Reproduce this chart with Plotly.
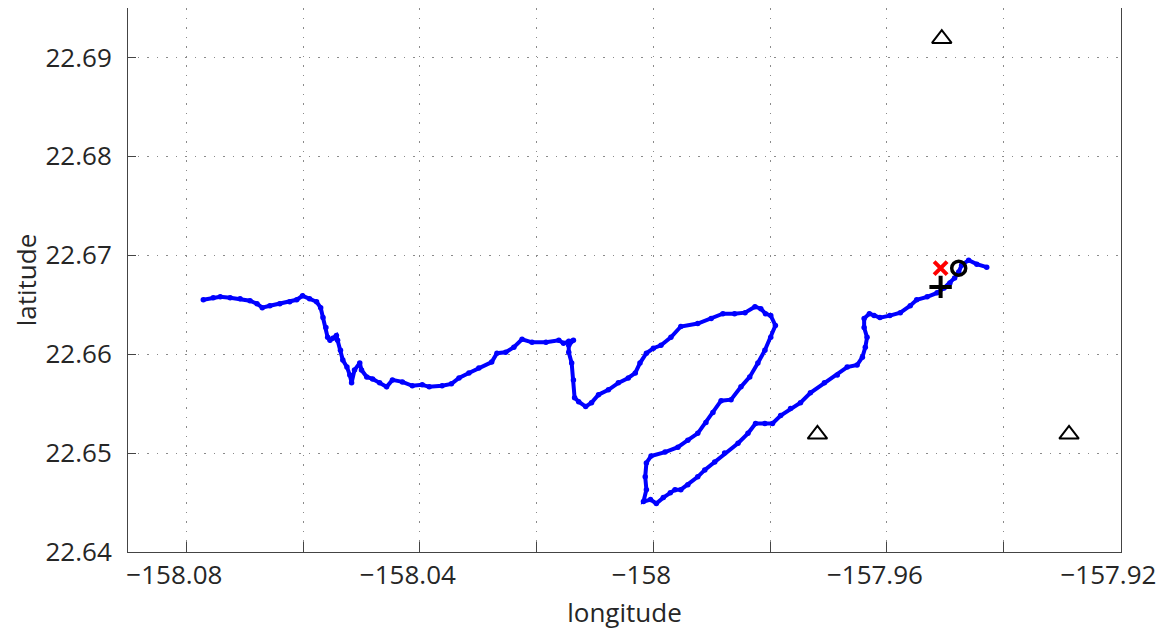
import plotly.graph_objects as go

# track (lon, lat)
track_lon = [-158.0771, -158.0754, -158.0742, -158.0725, -158.0708, -158.0691, -158.0679, -158.0670,
             -158.0657, -158.0640, -158.0623, -158.0611, -158.0601, -158.0589, -158.0577, -158.0570,
             -158.0566, -158.0561, -158.0558, -158.0554, -158.0549, -158.0543, -158.0541, -158.0536,
             -158.0532, -158.0525, -158.0520, -158.0517, -158.0512, -158.0503, -158.0500, -158.0491,
             -158.0481, -158.0469, -158.0457, -158.0447, -158.0430, -158.0413, -158.0396, -158.0384,
             -158.0362, -158.0346, -158.0333, -158.0316, -158.0299, -158.0277, -158.0268, -158.0253,
             -158.0239, -158.0225, -158.0208, -158.0184, -158.0162, -158.0154, -158.0145, -158.0137,
             -158.0145, -158.0145, -158.0140, -158.0137, -158.0135, -158.0128, -158.0116, -158.0106,
             -158.0094, -158.0077, -158.0060, -158.0043, -158.0031, -158.0023, -158.0012, -158.0000,
             -157.9987, -157.9970, -157.9953, -157.9924, -157.9901, -157.9881, -157.9861, -157.9843,
             -157.9826, -157.9816, -157.9808, -157.9799, -157.9791, -157.9799, -157.9809, -157.9821,
             -157.9835, -157.9850, -157.9867, -157.9884, -157.9898, -157.9910, -157.9924, -157.9941,
             -157.9958, -157.9980, -158.0004, -158.0012, -158.0014, -158.0012, -158.0017, -158.0005,
             -157.9995, -157.9983, -157.9971, -157.9963, -157.9953, -157.9941, -157.9924, -157.9912,
             -157.9895, -157.9878, -157.9855, -157.9838, -157.9825, -157.9809, -157.9796, -157.9782,
             -157.9765, -157.9748, -157.9731, -157.9707, -157.9685, -157.9668, -157.9651, -157.9642,
             -157.9637, -157.9634, -157.9639, -157.9639, -157.9630, -157.9622, -157.9612, -157.9595,
             -157.9577, -157.9560, -157.9549, -157.9531, -157.9514, -157.9502, -157.9492, -157.9484,
             -157.9477, -157.9472, -157.9460, -157.9446, -157.9429]
track_lat = [22.6655, 22.6657, 22.6658, 22.6657, 22.6656, 22.6654, 22.6651, 22.6647,
             22.6649, 22.6651, 22.6653, 22.6655, 22.6659, 22.6656, 22.6653, 22.6647,
             22.6637, 22.6627, 22.6617, 22.6614, 22.6616, 22.6619, 22.6614, 22.6604,
             22.6594, 22.6587, 22.6579, 22.6571, 22.6584, 22.6591, 22.6584, 22.6577,
             22.6575, 22.6571, 22.6567, 22.6574, 22.6572, 22.6568, 22.6569, 22.6567,
             22.6568, 22.6570, 22.6576, 22.6581, 22.6586, 22.6592, 22.6601, 22.6602,
             22.6607, 22.6615, 22.6612, 22.6612, 22.6614, 22.6611, 22.6613, 22.6614,
             22.6609, 22.6602, 22.6591, 22.6574, 22.6556, 22.6552, 22.6547, 22.6551,
             22.6559, 22.6564, 22.6571, 22.6576, 22.6581, 22.6591, 22.6601, 22.6606,
             22.6609, 22.6617, 22.6628, 22.6631, 22.6636, 22.6641, 22.6641, 22.6642,
             22.6648, 22.6646, 22.6641, 22.6639, 22.6629, 22.6617, 22.6604, 22.6591,
             22.6577, 22.6567, 22.6554, 22.6553, 22.6541, 22.6531, 22.6520, 22.6513,
             22.6506, 22.6501, 22.6497, 22.6490, 22.6476, 22.6463, 22.6451, 22.6453,
             22.6449, 22.6455, 22.6460, 22.6463, 22.6463, 22.6468, 22.6476, 22.6483,
             22.6491, 22.6500, 22.6510, 22.6520, 22.6530, 22.6530, 22.6530, 22.6538,
             22.6545, 22.6551, 22.6561, 22.6571, 22.6579, 22.6587, 22.6589, 22.6597,
             22.6607, 22.6617, 22.6627, 22.6636, 22.6641, 22.6639, 22.6637, 22.6639,
             22.6642, 22.6649, 22.6655, 22.6658, 22.6662, 22.6667, 22.6672, 22.6677,
             22.6683, 22.6690, 22.6695, 22.6691, 22.6688]

# receivers (triangles)
rx_lon = [-157.9506, -157.9719, -157.9288]
rx_lat = [22.6919, 22.6519, 22.6519]

# single markers
x_mark = (-157.9508, 22.6687)   # red x
o_mark = (-157.9477, 22.6687)   # circle
p_mark = (-157.9508, 22.6668)   # plus

xtick_vals = [-158.08, -158.04, -158.00, -157.96, -157.92]
xtick_text = ["\u2212158.08", "\u2212158.04", "\u2212158", "\u2212157.96", "\u2212157.92"]
xgrid_vals = [-158.08, -158.06, -158.04, -158.02, -158.00, -157.98, -157.96, -157.94]
ytick_vals = [22.64, 22.65, 22.66, 22.67, 22.68, 22.69]
ytick_text = ["22.64", "22.65", "22.66", "22.67", "22.68", "22.69"]

fig = go.Figure()

fig.add_trace(go.Scatter(
    x=track_lon, y=track_lat, mode="lines+markers",
    line=dict(color="#0000ff", width=4),
    marker=dict(color="#0000ff", size=5.5),
))
fig.add_trace(go.Scatter(
    x=rx_lon, y=rx_lat, mode="markers",
    marker=dict(symbol="triangle-up-open", size=17, color="black", line=dict(width=2)),
))
fig.add_trace(go.Scatter(
    x=[x_mark[0]], y=[x_mark[1]], mode="markers",
    marker=dict(symbol="x-thin", size=13, color="red", line=dict(width=4, color="red")),
))
fig.add_trace(go.Scatter(
    x=[o_mark[0]], y=[o_mark[1]], mode="markers",
    marker=dict(symbol="circle-open", size=14, color="black", line=dict(width=3.5)),
))
fig.add_trace(go.Scatter(
    x=[p_mark[0]], y=[p_mark[1]], mode="markers",
    marker=dict(symbol="cross-thin", size=16, color="black", line=dict(width=4, color="black")),
))

axis_font = dict(family="Open Sans, Lato, sans-serif", size=26, color="#262626")
grid_style = dict(gridcolor="#8a8a8a", gridwidth=1.2, griddash="1.5px,8px")

fig.update_xaxes(
    range=[-158.09, -157.9199], tickmode="array", tickvals=xtick_vals, ticktext=xtick_text,
    ticks="inside", ticklen=10, tickcolor="#444", showline=True, linecolor="#444",
    linewidth=1, mirror=True, showgrid=True, zeroline=False,
    ticklabeloverflow="allow", ticklabelshift=-12,
    minor=dict(tickmode="array", tickvals=xgrid_vals, ticks="inside", ticklen=10,
               tickcolor="#444", showgrid=True, **grid_style),
    tickfont=axis_font, title=dict(text="longitude", font=axis_font, standoff=12),
    **grid_style,
)
fig.update_yaxes(
    range=[22.64, 22.695], tickmode="array", tickvals=ytick_vals, ticktext=ytick_text,
    ticks="inside", ticklen=8, tickcolor="#444", showline=True, linecolor="#444",
    linewidth=1, mirror=True, showgrid=True, zeroline=False,
    ticklabelstandoff=10,
    tickfont=axis_font, title=dict(text="latitude", font=axis_font, standoff=6),
    **grid_style,
)

# page body adds 8px margin, so the figure is sized to fit inside the window
fig.update_layout(
    width=1158, height=624, showlegend=False,
    plot_bgcolor="white", paper_bgcolor="white",
    margin=dict(l=120, r=45, t=0, b=80),
)

fig.write_html("out.html")
